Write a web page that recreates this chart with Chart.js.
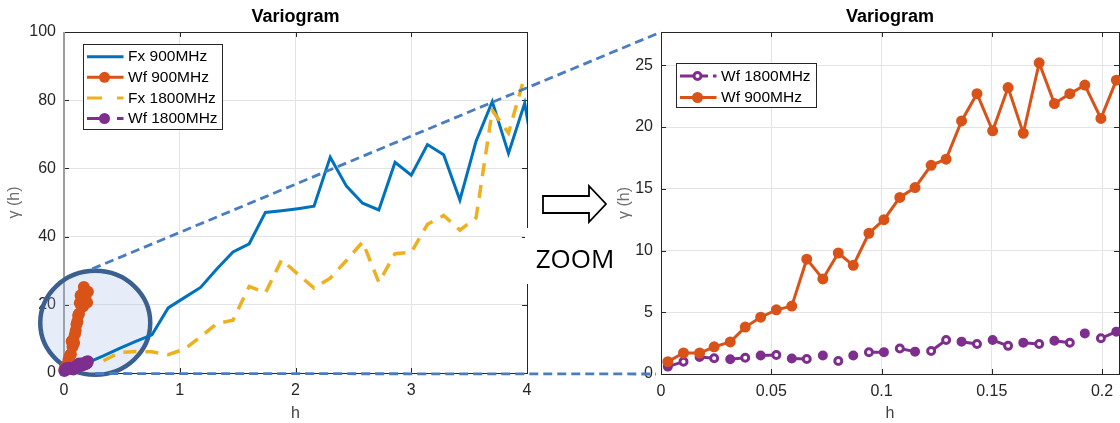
<!DOCTYPE html>
<html lang="en">
<head>
<meta charset="UTF-8">
<title>Variogram</title>
<script src="https://cdn.jsdelivr.net/npm/chart.js"></script>
<style>
  body { margin: 0; background: #fff; }
  #wrap { position: relative; width: 1120px; height: 423px; overflow: hidden; }
  #wrap canvas { position: absolute; top: 0; }
  #left { left: 0; }
  #right { left: 560px; }
  #over { position: absolute; left: 0; top: 0; }
</style>
</head>
<body>
<div id="wrap">
  <canvas id="left" width="560" height="423"></canvas>
  <canvas id="right" width="560" height="423"></canvas>
  <svg id="over" width="1120" height="423"></svg>
</div>
<script>
// Fx 900MHz
const hFx900 = [0.06, 0.20, 0.34, 0.48, 0.62, 0.76, 0.90, 1.04, 1.18, 1.32, 1.46, 1.60, 1.74, 1.88, 2.02,
                2.16, 2.30, 2.44, 2.58, 2.72, 2.86, 3.00, 3.14, 3.28, 3.42, 3.56, 3.70, 3.84, 3.98, 4.12];
const fx900 = [1.2, 3.0, 5.0, 7.2, 9.3, 11.2, 19.1, 22.1, 25.1, 30.5, 35.5, 37.9, 47.1, 47.6, 48.2,
               48.9, 63.3, 54.8, 49.8, 47.8, 61.8, 58.0, 67.0, 64.0, 50.7, 68.0, 79.6, 64.4, 79.1, 52.0];
// Fx 1800MHz
const hFx1800 = [0.34, 0.48, 0.62, 0.76, 0.90, 1.04, 1.18, 1.32, 1.46, 1.60, 1.74, 1.88, 2.02, 2.16,
                 2.30, 2.44, 2.58, 2.72, 2.86, 3.00, 3.14, 3.28, 3.42, 3.56, 3.70, 3.84, 3.98];
const fx1800 = [3.6, 6.0, 6.3, 6.2, 5.4, 7.0, 10.6, 14.5, 15.5, 25.4, 23.5, 33.2, 29.0, 24.9,
                27.8, 33.0, 38.4, 26.6, 35.0, 35.4, 43.6, 46.2, 41.9, 45.5, 77.0, 70.4, 87.0];
// Wf (small lags)
const hWf = [0.0031, 0.0102, 0.0175, 0.0241, 0.0314, 0.0382, 0.0452, 0.0523, 0.0593, 0.0661,
             0.0734, 0.0804, 0.0872, 0.0943, 0.1011, 0.1083, 0.1152, 0.1225, 0.1293, 0.1363,
             0.1433, 0.1504, 0.1574, 0.1643, 0.1715, 0.1784, 0.1854, 0.1922, 0.1995, 0.2065];
const wf900 = [1.0, 1.7, 1.7, 2.2, 2.6, 3.8, 4.6, 5.2, 5.5, 9.3,
               7.7, 9.8, 8.8, 11.4, 12.5, 14.3, 15.1, 16.9, 17.4, 20.5,
               22.7, 19.7, 23.2, 19.5, 25.2, 21.9, 22.7, 23.4, 20.7, 23.8];
const wf1800 = [0.6, 1.0, 1.38, 1.27, 1.19, 1.32, 1.5, 1.54, 1.25, 1.21,
                1.5, 1.06, 1.5, 1.76, 1.77, 2.06, 1.81, 1.86, 2.75, 2.62,
                2.43, 2.75, 2.28, 2.54, 2.43, 2.70, 2.53, 3.29, 2.89, 3.43];

const xTicksLeft = [0, 1, 2, 3, 4];
const yTicksLeft = [0, 20, 40, 60, 80, 100];
const xTicksRight = [0, 0.05, 0.1, 0.15, 0.2];
const yTicksRight = [0, 5, 10, 15, 20, 25];

const BLUE = '#0072bd', ORANGE = '#d95319', YELLOW = '#edb120', PURPLE = '#7e2f8e';
const FONT = '"Liberation Sans", Arial, sans-serif';

// how the dashed purple line looks in the zoomed plot (marker fill / drawn segments)
const wf1800Filled = [1,0,1,0,1,0,1,0,1,0,1,0,1,0,1,0,1,0,0,1,0,1,0,1,0,1,0,1,0,1];
const wf1800Links  = [1,0,1,0,1,0,1,0,1,0,0,0,0,1,0,1,0,1,0,1,0,1,0,1,0,1,0,0,1];

Chart.defaults.font.family = FONT;
Chart.defaults.color = '#262626';

const pts = (xs, ys) => xs.map((x, i) => ({ x: x, y: ys[i] }));

function axisX(min, max, ticks, height) {
    return {
        type: 'linear', min: min, max: max,
        afterBuildTicks: s => { s.ticks = ticks.map(v => ({ value: v })); },
        afterFit: s => { s.height = height; s.paddingLeft = 0; s.paddingRight = 0; },
        grid: { color: '#e4e4e4', drawTicks: false },
        border: { display: false },
        ticks: { padding: 8, font: { size: 16 }, color: '#262626', maxRotation: 0, autoSkip: false,
                 callback: v => String(v) },
        title: { display: true, text: 'h', font: { size: 16 }, color: '#404040', padding: 0 }
    };
}

function axisY(min, max, ticks, width, titlePad) {
    return {
        type: 'linear', min: min, max: max,
        afterBuildTicks: s => { s.ticks = ticks.map(v => ({ value: v })); },
        afterFit: s => { s.width = width; s.paddingTop = 0; s.paddingBottom = 0; },
        grid: { color: '#e4e4e4', drawTicks: false },
        border: { display: false },
        ticks: { padding: 8, font: { size: 16 }, color: '#262626', autoSkip: false,
                 callback: v => String(v) },
        title: { display: true, text: 'γ (h)', font: { size: 16 }, color: '#6e6e6e',
                 padding: { top: titlePad, bottom: 0 } }
    };
}

function drawLegend(chart, lg) {
    const c = chart.ctx;
    c.save();
    c.fillStyle = '#fff';
    c.strokeStyle = '#262626';
    c.lineWidth = 1;
    c.fillRect(lg.x, lg.y, lg.w, lg.h);
    c.strokeRect(lg.x, lg.y, lg.w, lg.h);
    lg.items.forEach((it, i) => {
        const y = lg.y + lg.first + i * lg.step;
        c.strokeStyle = it.color;
        c.lineWidth = 3;
        c.setLineDash(it.dash);
        c.beginPath();
        c.moveTo(lg.x + 3.5, y);
        c.lineTo(lg.x + 40, y);
        c.stroke();
        c.setLineDash([]);
        if (it.marker) {
            c.beginPath();
            if (it.marker === 'filled') {
                c.arc(lg.x + 21, y, 5.5, 0, Math.PI * 2);
                c.fillStyle = it.color;
                c.fill();
            } else {
                c.arc(lg.x + 21, y, 3.5, 0, Math.PI * 2);
                c.fillStyle = '#fff';
                c.fill();
                c.lineWidth = 3;
                c.stroke();
            }
        }
        c.fillStyle = '#000';
        c.font = '15.5px ' + FONT;
        c.textBaseline = 'middle';
        c.fillText(it.text, lg.x + 44.5, y + 0.5);
    });
    c.restore();
}

function frame(chart, leftColor) {
    const c = chart.ctx, a = chart.chartArea;
    const xs = chart.scales.x, ys = chart.scales.y;
    c.save();
    c.strokeStyle = '#262626';
    c.lineWidth = 1;
    c.beginPath();
    xs.ticks.forEach(t => {
        const p = Math.round(xs.getPixelForValue(t.value)) + 0.5;
        c.moveTo(p, a.bottom); c.lineTo(p, a.bottom - 5);
        c.moveTo(p, a.top); c.lineTo(p, a.top + 5);
    });
    ys.ticks.forEach(t => {
        const p = Math.round(ys.getPixelForValue(t.value)) + 0.5;
        c.moveTo(a.left, p); c.lineTo(a.left + 5, p);
        c.moveTo(a.right, p); c.lineTo(a.right - 5, p);
    });
    c.stroke();
    c.strokeRect(Math.round(a.left) + 0.5, Math.round(a.top) + 0.5,
                 Math.round(a.right - a.left), Math.round(a.bottom - a.top));
    if (leftColor) {
        c.strokeStyle = leftColor;
        c.lineWidth = 2;
        c.beginPath();
        c.moveTo(Math.round(a.left), a.top);
        c.lineTo(Math.round(a.left), a.bottom + 1);
        c.stroke();
    }
    c.restore();
}

// zoom circle around the small-lag region (data coordinates of its centre)
const circleAt = [0.27, 14.7];

const leftChart = new Chart(document.getElementById('left'), {
    type: 'line',
    data: {
        datasets: [
            { label: 'Wf 1800MHz', data: pts(hWf, wf1800), borderColor: PURPLE, backgroundColor: PURPLE,
              borderWidth: 3, borderDash: [20, 10], pointRadius: 6, pointBorderWidth: 0, clip: false },
            { label: 'Fx 1800MHz', data: pts(hFx1800, fx1800), borderColor: YELLOW, borderWidth: 3.5,
              borderDash: [13, 9], pointRadius: 0, clip: 0 },
            { label: 'Wf 900MHz', data: pts(hWf, wf900), borderColor: ORANGE, backgroundColor: ORANGE,
              borderWidth: 3, pointRadius: 6, pointBorderWidth: 0, clip: false },
            { label: 'Fx 900MHz', data: pts(hFx900, fx900), borderColor: BLUE, borderWidth: 3,
              pointRadius: 0, clip: 0 }
        ]
    },
    options: {
        responsive: false,
        animation: false,
        events: [],
        layout: { autoPadding: false, padding: { left: 0, right: 33, top: 0, bottom: 0 } },
        scales: {
            x: axisX(0, 4, xTicksLeft, 50),
            y: axisY(0, 100, yTicksLeft, 64, 5)
        },
        plugins: {
            legend: { display: false },
            tooltip: { enabled: false },
            title: { display: true, text: 'Variogram', fullSize: false, color: '#000',
                     font: { size: 18, weight: 'bold' }, padding: { top: 6, bottom: 4.4 } }
        }
    },
    plugins: [{
        id: 'leftDecor',
        beforeDatasetsDraw(chart) {
            frame(chart, '#9c9c9c');
            const c = chart.ctx;
            const cx = chart.scales.x.getPixelForValue(circleAt[0]);
            const cy = chart.scales.y.getPixelForValue(circleAt[1]);
            c.save();
            c.beginPath();
            c.ellipse(cx, cy, 55, 52, 0, 0, Math.PI * 2);
            c.fillStyle = 'rgba(160,185,228,0.25)';
            c.fill();
            c.lineWidth = 4.5;
            c.strokeStyle = '#3b5f8e';
            c.stroke();
            c.restore();
        },
        afterDraw(chart) {
            drawLegend(chart, {
                x: 83.5, y: 44.5, w: 139, h: 85, first: 12.2, step: 20.6,
                items: [
                    { text: 'Fx 900MHz', color: BLUE, dash: [], marker: null },
                    { text: 'Wf 900MHz', color: ORANGE, dash: [], marker: 'filled' },
                    { text: 'Fx 1800MHz', color: YELLOW, dash: [15, 15], marker: null },
                    { text: 'Wf 1800MHz', color: PURPLE, dash: [20, 10], marker: 'filled' }
                ]
            });
        }
    }]
});

const rightChart = new Chart(document.getElementById('right'), {
    type: 'line',
    data: {
        datasets: [
            { label: 'Wf 900MHz', data: pts(hWf, wf900), borderColor: ORANGE, backgroundColor: ORANGE,
              borderWidth: 3, pointRadius: 4.5, pointBorderWidth: 2, pointBackgroundColor: ORANGE,
              clip: false },
            { label: 'Wf 1800MHz', data: pts(hWf, wf1800), borderColor: PURPLE, borderWidth: 3,
              pointRadius: 3.5, pointBorderWidth: 3, pointBorderColor: PURPLE,
              pointBackgroundColor: wf1800Filled.map(f => f ? PURPLE : '#fff'),
              segment: { borderColor: ctx => wf1800Links[ctx.p0DataIndex] ? PURPLE : 'rgba(0,0,0,0)' },
              clip: false }
        ]
    },
    options: {
        responsive: false,
        animation: false,
        events: [],
        layout: { autoPadding: false, padding: { left: 0, right: 1, top: 0, bottom: 0 } },
        scales: {
            x: axisX(0, 0.2077, xTicksRight, 49),
            y: axisY(0, 27.7, yTicksRight, 101, 55.4)
        },
        plugins: {
            legend: { display: false },
            tooltip: { enabled: false },
            title: { display: true, text: 'Variogram', fullSize: false, color: '#000',
                     font: { size: 18, weight: 'bold' }, padding: { top: 6, bottom: 4.4 } }
        }
    },
    plugins: [{
        id: 'rightDecor',
        beforeDatasetsDraw(chart) { frame(chart, null); },
        afterDraw(chart) {
            drawLegend(chart, {
                x: 116.5, y: 63.5, w: 140, h: 44, first: 12.5, step: 21.5,
                items: [
                    { text: 'Wf 1800MHz', color: PURPLE, dash: [28, 5], marker: 'hollow' },
                    { text: 'Wf 900MHz', color: ORANGE, dash: [], marker: 'filled' }
                ]
            });
        }
    }]
});

// overlay: zoom connectors, arrow and label
(function () {
    const svg = document.getElementById('over');
    const NS = 'http://www.w3.org/2000/svg';
    const add = (tag, attrs, text) => {
        const el = document.createElementNS(NS, tag);
        Object.keys(attrs).forEach(k => el.setAttribute(k, attrs[k]));
        if (text) el.textContent = text;
        svg.appendChild(el);
        return el;
    };
    const off = 560;
    const ra = rightChart.chartArea;
    const la = leftChart.chartArea;
    const cx = leftChart.scales.x.getPixelForValue(circleAt[0]);
    const cy = leftChart.scales.y.getPixelForValue(circleAt[1]);
    const y0 = leftChart.scales.y.getPixelForValue(0);

    // white gap on the right spine behind the label
    add('rect', { x: la.right - 2, y: 228, width: 5, height: 56, fill: '#fff' });

    const line = { stroke: '#4a7cc2', 'stroke-width': 2.8, 'stroke-dasharray': '9 5', fill: 'none' };
    add('line', Object.assign({ x1: cx - 3, y1: cy - 54, x2: off + ra.left, y2: ra.top }, line));
    add('line', Object.assign({ x1: cx, y1: y0 + 0.5, x2: off + ra.left - 5, y2: ra.bottom }, line));

    add('path', { d: 'M543,196 H589 V186 L606,204 L589,222 V213 H543 Z',
                  fill: '#fff', stroke: '#000', 'stroke-width': 1.8, 'stroke-linejoin': 'miter' });
    add('text', { x: 575, y: 268, 'text-anchor': 'middle', 'font-family': '"Open Sans", sans-serif',
                  'font-size': 26, fill: '#000' }, 'ZOOM');
})();
</script>
</body>
</html>
